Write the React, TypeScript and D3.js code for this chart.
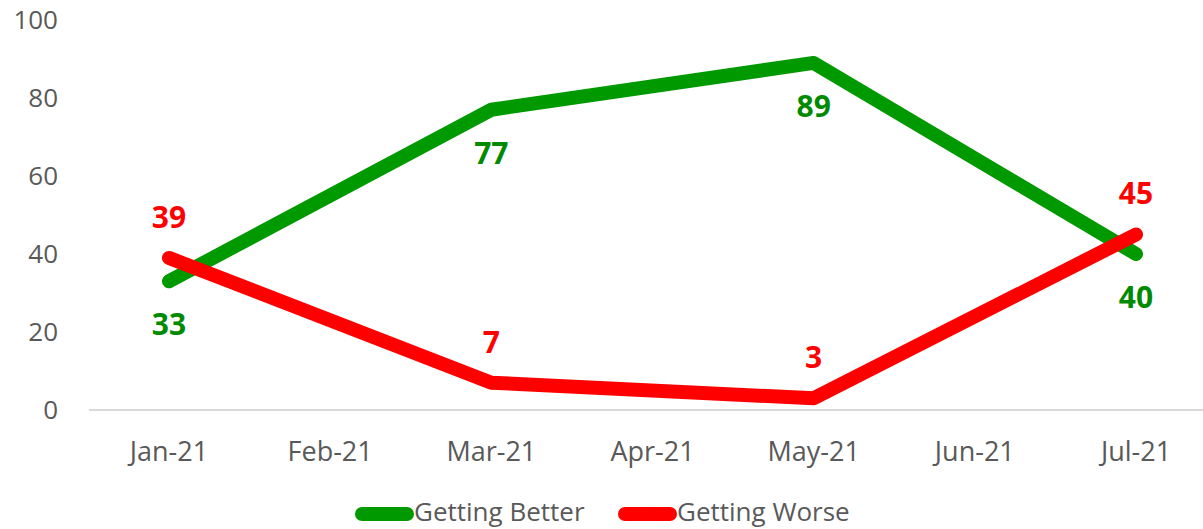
import React, { useEffect, useRef } from "react";
import * as d3 from "d3";

const months = ["Jan-21", "Feb-21", "Mar-21", "Apr-21", "May-21", "Jun-21", "Jul-21"];
const pointMonths = ["Jan-21", "Mar-21", "May-21", "Jul-21"];
const betterValues = [33, 77, 89, 40];
const worseValues = [39, 7, 3, 45];
const yTicks = [0, 20, 40, 60, 80, 100];
const seriesNames = ["Getting Better", "Getting Worse"];

const App = () => {
  const ref = useRef<SVGSVGElement>(null);
  const width = 1203;
  const height = 529;

  useEffect(() => {
    const svg = d3.select(ref.current);
    svg.selectAll("*").remove();
    const font = "'Open Sans', sans-serif";

    const x = d3.scalePoint().domain(months).range([169, 1136]);
    const y = d3.scaleLinear().domain([0, 100]).range([410, 20]);

    // baseline
    svg
      .append("line")
      .attr("x1", 89)
      .attr("x2", 1217)
      .attr("y1", y(0))
      .attr("y2", y(0))
      .attr("stroke", "#d9d9d9")
      .attr("stroke-width", 2);

    // y tick labels
    svg
      .append("g")
      .selectAll("text")
      .data(yTicks)
      .join("text")
      .attr("x", 58)
      .attr("y", (d) => y(d))
      .attr("dy", "0.36em")
      .attr("text-anchor", "end")
      .attr("font-family", font)
      .attr("font-size", 26)
      .attr("fill", "#595959")
      .text((d) => d);

    // x labels
    svg
      .append("g")
      .selectAll("text")
      .data(months)
      .join("text")
      .attr("x", (d) => x(d)!)
      .attr("y", 451)
      .attr("dy", "0.36em")
      .attr("text-anchor", "middle")
      .attr("font-family", font)
      .attr("font-size", 27)
      .attr("fill", "#595959")
      .text((d) => d);

    const series = [
      { name: seriesNames[0], values: betterValues, color: "#009900", label: "#008a00", off: 43 },
      { name: seriesNames[1], values: worseValues, color: "#ff0000", label: "#ff0000", off: -41 },
    ];

    const line = d3
      .line<number>()
      .x((d, i) => x(pointMonths[i])!)
      .y((d) => y(d));

    series.forEach((s) => {
      svg
        .append("path")
        .datum(s.values)
        .attr("d", line)
        .attr("fill", "none")
        .attr("stroke", s.color)
        .attr("stroke-width", 14)
        .attr("stroke-linecap", "round")
        .attr("stroke-linejoin", "round");
    });

    series.forEach((s) => {
      svg
        .append("g")
        .selectAll("text")
        .data(s.values)
        .join("text")
        .attr("x", (d, i) => x(pointMonths[i])!)
        .attr("y", (d) => y(d) + s.off)
        .attr("dy", "0.36em")
        .attr("text-anchor", "middle")
        .attr("font-family", font)
        .attr("font-weight", "bold")
        .attr("font-size", 30)
        .attr("fill", s.label)
        .text((d) => d);
    });

    // legend
    const legendX = [355, 618];
    series.forEach((s, i) => {
      const g = svg.append("g").attr("transform", `translate(${legendX[i]},514)`);
      g.append("line")
        .attr("x1", 7)
        .attr("x2", 52)
        .attr("stroke", s.color)
        .attr("stroke-width", 14)
        .attr("stroke-linecap", "round");
      g.append("text")
        .attr("x", 59)
        .attr("y", -1)
        .attr("dy", "0.3em")
        .attr("font-family", font)
        .attr("font-size", 26)
        .attr("fill", "#595959")
        .text(s.name);
    });
  }, []);

  return (
    <svg
      ref={ref}
      width={width}
      height={height}
      style={{ position: "absolute", left: 0, top: 0, background: "#fff" }}
    ></svg>
  );
};

export default App;
